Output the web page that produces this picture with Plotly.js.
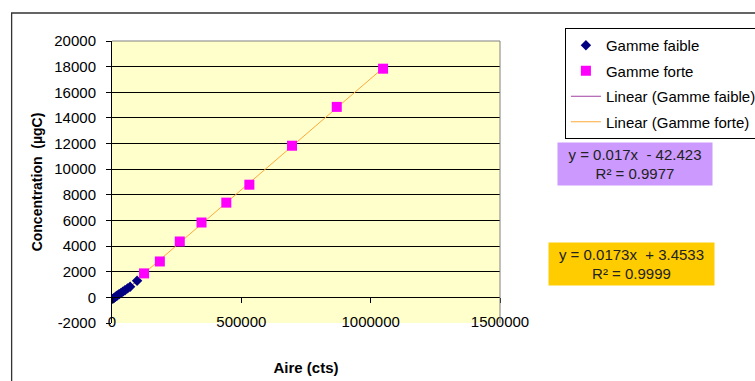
<!DOCTYPE html>
<html>
<head>
<meta charset="utf-8">
<script src="https://cdn.plot.ly/plotly-3.0.1.min.js"></script>
<style>html,body{margin:0;padding:0;background:#fff;}#chart{width:755px;height:381px;}</style>
</head>
<body>
<div id="chart"></div>
<script>
// Data
var faibleX = [3000, 8000, 14000, 20000, 27000, 34000, 42000, 50000, 60000, 70000, 97000];
var faibleY = [-120, -40, 60, 150, 240, 330, 450, 560, 700, 830, 1300];
var forteX = [124000, 185000, 262000, 346000, 442000, 531000, 696000, 869000, 1048000];
var forteY = [1870, 2800, 4360, 5840, 7390, 8790, 11830, 14860, 17840];
var seriesNames = ["Gamme faible", "Gamme forte", "Linear (Gamme faible)", "Linear (Gamme forte)"];
var eqFaible = "y = 0.017x  - 42.423<br>R² = 0.9977";
var eqForte = "y = 0.0173x  + 3.4533<br>R² = 0.9999";
var yTicks = [-2000, 0, 2000, 4000, 6000, 8000, 10000, 12000, 14000, 16000, 18000, 20000];
var xTicks = [0, 500000, 1000000, 1500000];

function fit(xs, ys) {
  var n = xs.length, sx = 0, sy = 0, sxx = 0, sxy = 0;
  for (var i = 0; i < n; i++) { sx += xs[i]; sy += ys[i]; sxx += xs[i]*xs[i]; sxy += xs[i]*ys[i]; }
  var m = (n*sxy - sx*sy) / (n*sxx - sx*sx);
  var b = (sy - m*sx) / n;
  var x0 = Math.min.apply(null, xs), x1 = Math.max.apply(null, xs);
  return {x: [x0, x1], y: [m*x0 + b, m*x1 + b]};
}
var lf = fit(faibleX, faibleY);
var lF = fit(forteX, forteY);

var font = "Liberation Sans, Arial, sans-serif";
var traces = [
  {x: lf.x, y: lf.y, mode: "lines", name: seriesNames[2], line: {color: "#A040A0", width: 1}, legendgroup: "c", legendrank: 3},
  {x: lF.x, y: lF.y, mode: "lines", name: seriesNames[3], line: {color: "#FFA838", width: 1}, legendgroup: "d", legendrank: 4},
  {x: faibleX, y: faibleY, mode: "markers", name: seriesNames[0], marker: {symbol: "diamond", color: "#000080", size: 8}, legendgroup: "a", legendrank: 1},
  {x: forteX, y: forteY, mode: "markers", name: seriesNames[1], marker: {symbol: "square", color: "#FF00FF", size: 10}, legendgroup: "b", legendrank: 2}
];

var L = 111.5, R = 500, T = 41, B = 323, W = 755, H = 381;
function px(x) { return (x - L) / (R - L); }
function py(y) { return (B - y) / (B - T); }

var layout = {
  width: W, height: H,
  margin: {l: L, r: W - R, t: T, b: H - B, pad: 0, autoexpand: false},
  paper_bgcolor: "#ffffff",
  plot_bgcolor: "#FFFFCC",
  font: {family: font, size: 15, color: "#000"},
  showlegend: true,
  legend: {
    x: px(565), y: py(28), xanchor: "left", yanchor: "top",
    bordercolor: "#000", borderwidth: 1, bgcolor: "#fff",
    font: {family: font, size: 15, color: "#000"},
    tracegroupgap: 3, traceorder: "grouped"
  },
  xaxis: {
    range: [0, 1500000], tickvals: xTicks, ticktext: xTicks.map(String),
    showgrid: false, zeroline: false, showline: true, linecolor: "#000", linewidth: 1,
    ticks: "outside", ticklen: 5, tickcolor: "#000",
    anchor: "free", position: 2000/22000, ticklabelstandoff: 6,
    tickfont: {family: font, size: 15, color: "#000"},
    title: {text: "<b>Aire (cts)</b>", font: {family: font, size: 15, color: "#000"}, standoff: 33}
  },
  yaxis: {
    range: [-2000, 20000], tickvals: yTicks, ticktext: yTicks.map(String),
    showgrid: true, gridcolor: "#000", gridwidth: 1, zeroline: false,
    showline: true, linecolor: "#000", linewidth: 1,
    ticks: "outside", ticklen: 5, tickcolor: "#000", ticklabelstandoff: 7,
    tickfont: {family: font, size: 15, color: "#000"},
    title: {text: "<b>Concentration  (µgC)</b>", font: {family: font, size: 14, color: "#000"}, standoff: 8}
  },
  shapes: [
    {type: "rect", xref: "paper", yref: "paper", x0: px(11), x1: px(770), y0: py(395), y1: py(13), line: {color: "#333", width: 1.3}, fillcolor: "rgba(0,0,0,0)", layer: "below"},
    {type: "line", xref: "paper", yref: "paper", x0: 0, x1: 1, y0: 1, y1: 1, line: {color: "#808080", width: 1}},
    {type: "line", xref: "paper", yref: "paper", x0: 1, x1: 1, y0: 0, y1: 1, line: {color: "#808080", width: 1}}
  ],
  annotations: [
    {xref: "paper", yref: "paper", x: px(635), y: py(164), xanchor: "center", yanchor: "middle",
     text: eqFaible, showarrow: false, bgcolor: "#CC99FF", width: 150, height: 38, borderpad: 2,
     font: {family: font, size: 15, color: "#222"}, align: "center"},
    {xref: "paper", yref: "paper", x: px(631.5), y: py(263.5), xanchor: "center", yanchor: "middle",
     text: eqForte, showarrow: false, bgcolor: "#FFCC00", width: 161, height: 38, borderpad: 2,
     font: {family: font, size: 15, color: "#222"}, align: "center"}
  ]
};

Plotly.newPlot("chart", traces, layout, {displayModeBar: false, staticPlot: true});
</script>
</body>
</html>
